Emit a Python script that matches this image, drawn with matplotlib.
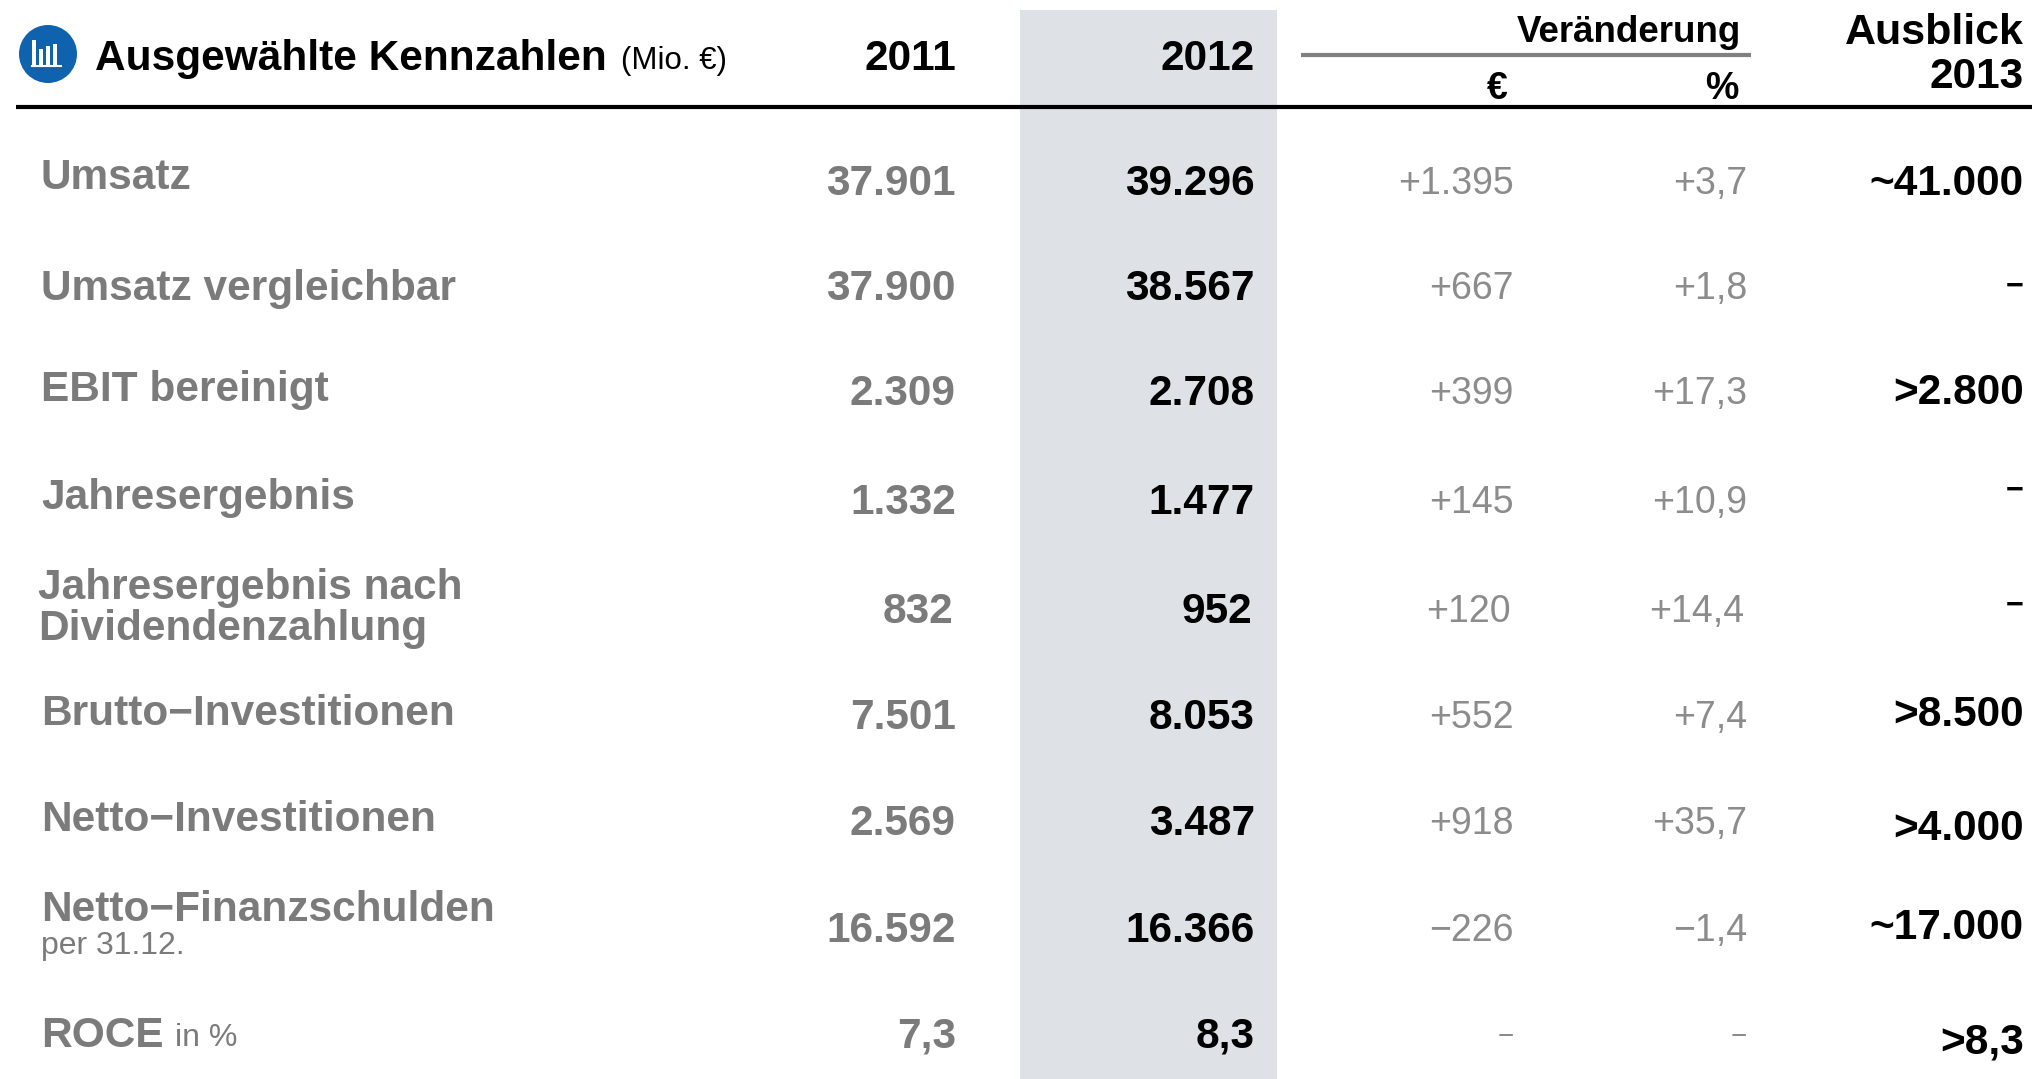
import matplotlib
matplotlib.use('Agg')
import matplotlib.pyplot as plt
from matplotlib.patches import Rectangle, Ellipse

# Table content
labels = ['Umsatz', 'Umsatz vergleichbar', 'EBIT bereinigt', 'Jahresergebnis',
          'Jahresergebnis nach\nDividendenzahlung', 'Brutto\u2212Investitionen',
          'Netto\u2212Investitionen', 'Netto\u2212Finanzschulden', 'ROCE']
v2011 = ['37.901', '37.900', '2.309', '1.332', '832', '7.501', '2.569', '16.592', '7,3']
v2012 = ['39.296', '38.567', '2.708', '1.477', '952', '8.053', '3.487', '16.366', '8,3']
diff_eur = ['+1.395', '+667', '+399', '+145', '+120', '+552', '+918', '\u2212226', '\u2212']
diff_pct = ['+3,7', '+1,8', '+17,3', '+10,9', '+14,4', '+7,4', '+35,7', '\u22121,4', '\u2212']
outlook = ['~41.000', '\u2212', '>2.800', '\u2212', '\u2212', '>8.500', '>4.000', '~17.000', '>8,3']

# Pixel layout
row_y = [184, 289, 394, 503, 612, 718, 824, 931, 1037]
label_y = [178, 289, 390, 498, 0, 714, 820, 910, 1036]
outlook_y = [184, 287, 393, 491, 606, 715, 829, 928, 1043]

plt.rcParams['font.family'] = ['Liberation Sans', 'DejaVu Sans']

GREY = '#7b7b7b'
LIGHT = '#8c8c8c'
SIZE = 30.5

fig = plt.figure(figsize=(20.33, 10.79), dpi=100)
ax = fig.add_axes([0, 0, 1, 1])
ax.set_xlim(0, 2033)
ax.set_ylim(1079, 0)
ax.axis('off')

# shaded 2012 column and rules
ax.add_patch(Rectangle((1020, 10), 257, 1069, color='#dee1e6', lw=0))
ax.plot([16, 2033], [107, 107], color='black', lw=3, solid_capstyle='butt')
ax.plot([1301, 1751], [55, 55], color='#808080', lw=3, solid_capstyle='butt')

# icon
ax.add_patch(Ellipse((48, 54), 58, 58, color='#0f62ad', lw=0))
for x, top in zip([34, 41, 48, 55], [40, 49, 46, 44]):
    ax.add_patch(Rectangle((x - 1.5, top), 4, 65 - top, color='white', lw=0))
ax.plot([32, 61], [66, 66], color='white', lw=1.5)

# header
ax.text(95, 59, 'Ausgew\u00e4hlte Kennzahlen', fontsize=30.5, fontweight='bold', va='center')
ax.text(621, 61, '(Mio. \u20ac)', fontsize=22.5, va='center')
ax.text(956, 59, '2011', fontsize=SIZE, fontweight='bold', ha='right', va='center')
ax.text(1255, 59, '2012', fontsize=SIZE, fontweight='bold', ha='right', va='center')
ax.text(1741, 33, 'Ver\u00e4nderung', fontsize=26.5, fontweight='bold', ha='right', va='center')
ax.text(1508, 89, '\u20ac', fontsize=27, fontweight='bold', ha='right', va='center')
ax.text(1739, 89, '%', fontsize=27, fontweight='bold', ha='right', va='center')
ax.text(2024, 33, 'Ausblick', fontsize=31, fontweight='bold', ha='right', va='center')
ax.text(2024, 77, '2013', fontsize=30.5, fontweight='bold', ha='right', va='center')

# rows
for i in range(len(labels)):
    x_off = -3 if i == 4 else 0
    if i == 4:
        first, second = labels[i].split('\n')
        ax.text(38, 588, first, color=GREY, fontsize=SIZE, fontweight='bold', va='center')
        ax.text(38, 629, second, color=GREY, fontsize=SIZE, fontweight='bold', va='center')
    else:
        ax.text(41, label_y[i], labels[i], color=GREY, fontsize=SIZE, fontweight='bold', va='center')
    ax.text(956 + x_off, row_y[i], v2011[i], color=GREY, fontsize=SIZE, fontweight='bold', ha='right', va='center')
    ax.text(1255 + x_off, row_y[i], v2012[i], color='black', fontsize=SIZE, fontweight='bold', ha='right', va='center')
    # lone dashes are shorter than a minus at full size
    eur_size = 20 if diff_eur[i] == '\u2212' else 27
    pct_size = 20 if diff_pct[i] == '\u2212' else 27
    ax.text(1514 + x_off, row_y[i], diff_eur[i], color=LIGHT, fontsize=eur_size, ha='right', va='center')
    ax.text(1747 + x_off, row_y[i], diff_pct[i], color=LIGHT, fontsize=pct_size, ha='right', va='center')
    out_size = 22 if outlook[i] == '\u2212' else SIZE
    ax.text(2024, outlook_y[i], outlook[i], color='black', fontsize=out_size, fontweight='bold', ha='right', va='center')

ax.text(41, 946, 'per 31.12.', color=GREY, fontsize=23, va='center')
ax.text(175, 1038, 'in %', color=GREY, fontsize=23, va='center')

fig.savefig('out.png', dpi=100)
